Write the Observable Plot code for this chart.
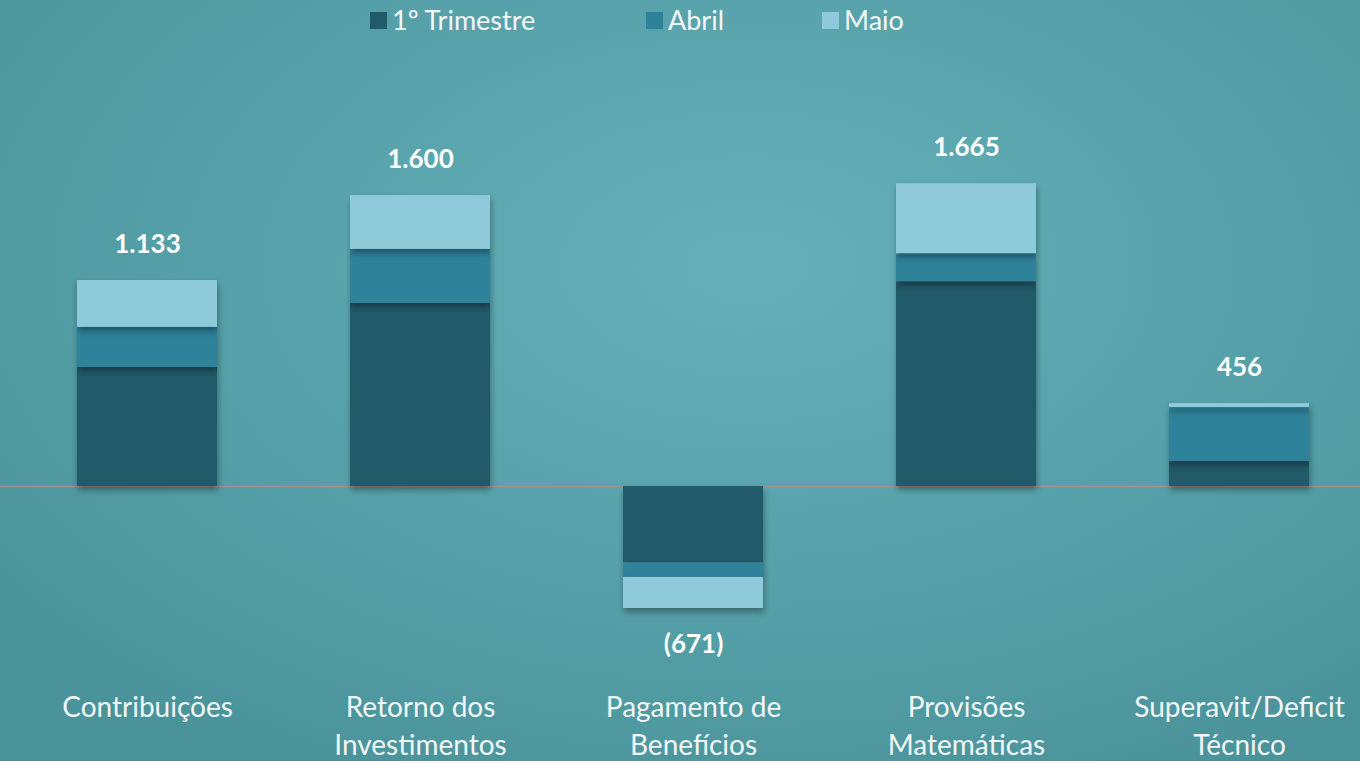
<!DOCTYPE html>
<html>
<head>
<meta charset="utf-8">
<script src="https://cdn.jsdelivr.net/npm/d3@7"></script>
<script src="https://cdn.jsdelivr.net/npm/@observablehq/plot@0.6"></script>
<style>
  html, body { margin: 0; padding: 0; }
  body {
    width: 1360px; height: 761px; overflow: hidden; position: relative;
    background: radial-gradient(ellipse 70% 75% at 55% 35%, #66b1b9 0%, #59a4ac 45%, #4a939b 100%);
    font-family: Lato, "Open Sans", sans-serif;
  }
  #legend { position: absolute; left: 0; top: 0; width: 1360px; height: 40px; z-index: 2; }
  .item {
    position: absolute; top: 4px; display: flex; align-items: center;
    color: #f2f6f6; font-size: 27px; font-family: Lato, sans-serif; line-height: 32px;
  }
  .sw { width: 17px; height: 17px; margin-right: 5px; }
  #chart { position: absolute; left: 0; top: 0; }
</style>
</head>
<body>
<div id="legend"></div>
<div id="chart"></div>
<script>
const categories = ["Contribuições", "Retorno dos\nInvestimentos", "Pagamento de\nBenefícios", "Provisões\nMatemáticas", "Superavit/Deficit\nTécnico"];
const series = ["1º Trimestre", "Abril", "Maio"];
const trimestre = [655, 1007, -420, 1126, 137];
const abril = [220, 297, -80, 154, 297];
const maio = [258, 296, -171, 385, 22];
const totals = [1133, 1600, -671, 1665, 456];
const colors = ["#215a69", "#2e839b", "#8fcadb"];
const legendLeft = [370, 646, 822];

const seriesValues = [trimestre, abril, maio];
const rows = [];
series.forEach((s, si) => categories.forEach((c, ci) => rows.push({cat: c, serie: s, value: seriesValues[si][ci]})));
const totalRows = categories.map((c, i) => ({cat: c, value: totals[i]}));

const fmtNum = v => {
  const s = Math.abs(v).toString().replace(/\B(?=(\d{3})+(?!\d))/g, ".");
  return v < 0 ? `(${s})` : s;
};

const legend = document.getElementById("legend");
series.forEach((s, i) => {
  const it = document.createElement("div");
  it.className = "item";
  it.style.left = legendLeft[i] + "px";
  it.innerHTML = `<div class="sw" style="background:${colors[i]}"></div><span>${s}</span>`;
  legend.appendChild(it);
});

const k = 206 / 1133;
const plot = Plot.plot({
  width: 1360,
  height: 761,
  marginTop: 0,
  marginBottom: 81,
  marginLeft: 0,
  marginRight: 0,
  style: {background: "transparent", overflow: "visible", fontFamily: "Lato, sans-serif"},
  x: {domain: categories, range: [10.5, 1375.5], paddingInner: 0.487, paddingOuter: 0.2435, axis: null},
  y: {domain: [-(680 - 486) / k, 486 / k], axis: null},
  color: {domain: series, range: colors},
  marks: [
    Plot.ruleY([0], {stroke: "#a3908f", strokeWidth: 1.3}),
    Plot.barY(rows, Plot.stackY({x: "cat", y: "value", fill: "serie", order: null})),
    Plot.text(totalRows.filter(d => d.value >= 0), {x: "cat", y: "value", text: d => fmtNum(d.value), dy: -36, fill: "#ffffff", fontSize: 26, fontWeight: "bold"}),
    Plot.text(totalRows.filter(d => d.value < 0), {x: "cat", y: "value", text: d => fmtNum(d.value), dy: 36, fill: "#ffffff", fontSize: 26, fontWeight: "bold"}),
    Plot.axisX({domain: categories, tickSize: 0, tickPadding: 9, fontSize: 28, lineHeight: 1.36, fill: "#f2f6f6", color: "#f2f6f6", label: null})
  ]
});
d3.select(plot).selectAll("g[aria-label='bar'] rect").style("filter", "drop-shadow(1px 4px 3px rgba(0,0,0,0.35))");
document.getElementById("chart").appendChild(plot);
</script>
</body>
</html>
